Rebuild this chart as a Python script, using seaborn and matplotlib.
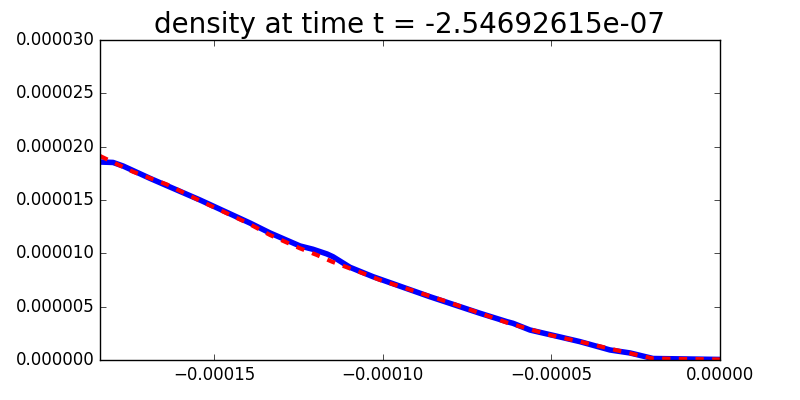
import matplotlib
matplotlib.use("Agg")
import matplotlib.pyplot as plt
import seaborn as sns

# Численное решение (синяя линия)
x_num = [-1.8376e-4, -1.7990e-4, -1.7694e-4, -1.6894e-4, -1.5412e-4, -1.3930e-4,
         -1.3337e-4, -1.2448e-4, -1.2063e-4, -1.1648e-4, -1.1470e-4, -1.0966e-4,
         -1.0284e-4, -9.781e-5, -8.595e-5, -7.113e-5, -6.313e-5, -6.135e-5,
         -5.631e-5, -4.742e-5, -4.149e-5, -3.260e-5, -2.667e-5, -1.986e-5, 0.0]
y_num = [1.856e-5, 1.852e-5, 1.819e-5, 1.703e-5, 1.500e-5, 1.284e-5,
         1.191e-5, 1.069e-5, 1.038e-5, 9.94e-6, 9.68e-6, 8.69e-6,
         7.81e-6, 7.25e-6, 5.93e-6, 4.38e-6, 3.59e-6, 3.44e-6,
         2.81e-6, 2.16e-6, 1.72e-6, 9.4e-7, 6.6e-7, 1.4e-7, 5e-8]

# Аналитическое решение (красный пунктир)
x_ref = [-1.8376e-4, -1.7398e-4, -1.6390e-4, -1.5412e-4, -1.4019e-4, -1.3337e-4,
         -1.2893e-4, -1.2448e-4, -1.1944e-4, -1.1500e-4, -1.1055e-4, -1.0581e-4,
         -1.0077e-4, -8.091e-5, -6.313e-5, -5.039e-5, -4.149e-5, -2.964e-5,
         -1.986e-5, 0.0]
y_ref = [1.9125e-5, 1.765e-5, 1.645e-5, 1.493e-5, 1.287e-5, 1.172e-5,
         1.109e-5, 1.047e-5, 9.84e-6, 9.22e-6, 8.69e-6, 8.13e-6,
         7.50e-6, 5.47e-6, 3.50e-6, 2.34e-6, 1.72e-6, 8.4e-7,
         1.4e-7, 5e-8]

time_label = "-2.54692615e-07"

plt.style.use("classic")
fig, ax = plt.subplots(figsize=(8, 4), dpi=100)

sns.lineplot(x=x_num, y=y_num, ax=ax, color="blue", linewidth=4, sort=False)
sns.lineplot(x=x_ref, y=y_ref, ax=ax, color="red", linewidth=3,
             linestyle="--", sort=False)

ax.set_xlim(x_num[0], 0.0)
ax.set_ylim(0.0, 3e-5)
ax.set_title("density at time t = " + time_label, fontsize=20)

fig.savefig("out.png", dpi=100, facecolor="white")
